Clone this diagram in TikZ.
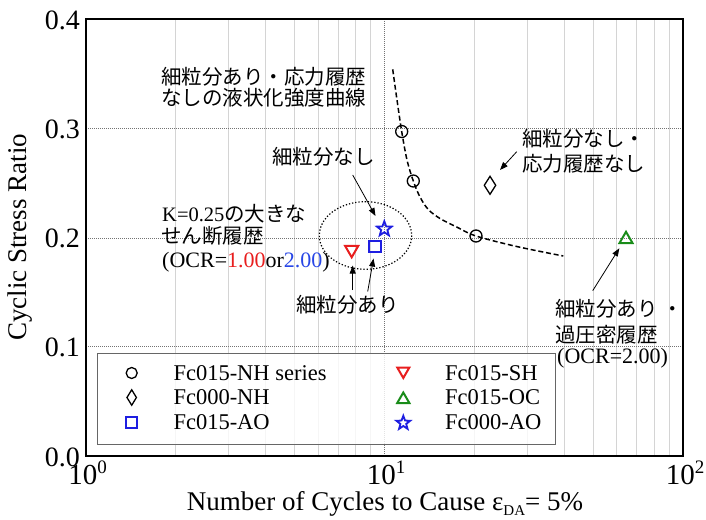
\documentclass[tikz,border=0pt]{standalone}
\usepackage{fontspec}
\setmainfont{Liberation Serif}
\newfontfamily\jp{Noto Sans CJK JP}
\usetikzlibrary{arrows.meta,shapes.geometric}
\definecolor{mkred}{RGB}{232,30,30}
\definecolor{mkblue}{RGB}{30,30,225}
\definecolor{mkgreen}{RGB}{25,140,25}
\definecolor{txtblue}{RGB}{40,70,230}
\tikzset{
  frame/.style={line width=2.4pt},
  minorgrid/.style={draw=black!17, line width=0.8pt},
  majorgrid/.style={draw=black!55, line width=0.7pt, dash pattern=on 0.9pt off 1.1pt},
  fitcurve/.style={line width=1.5pt, dash pattern=on 5pt off 2.8pt},
  ellip/.style={line width=1.2pt, dash pattern=on 1.3pt off 1.9pt},
  ann/.style={-{Triangle[length=8pt,width=6pt]}, line width=0.8pt},
  tick/.style={inner sep=0pt, font=\fontsize{28}{30}\selectfont},
  decade/.style={inner sep=0pt, anchor=base, font=\fontsize{29}{30}\selectfont},
  axlab/.style={inner sep=0pt, font=\fontsize{27}{30}\selectfont},
  jptext/.style={inner sep=0pt, anchor=west, font=\jp\fontsize{20.5}{21}\selectfont},
  lat/.style={inner sep=0pt, anchor=west, font=\fontsize{22}{24}\selectfont},
  legtext/.style={inner sep=0pt, anchor=west, font=\fontsize{22.5}{24}\selectfont},
  mkcirc/.style={circle, draw=black, line width=1.3pt, minimum size=12pt, inner sep=0pt},
  mkdiam/.style={diamond, draw=black, line width=1.3pt, minimum width=12pt, minimum height=18.5pt, inner sep=0pt},
  mksq/.style={rectangle, draw=mkblue, line width=2pt, minimum size=11.3pt, inner sep=0pt},
  mkdown/.style={regular polygon, regular polygon sides=3, shape border rotate=180, draw=mkred, line width=2pt, minimum size=15.4pt, inner sep=0pt},
  mkup/.style={regular polygon, regular polygon sides=3, draw=mkgreen, line width=2pt, minimum size=15pt, inner sep=0pt},
  mkstar/.style={star, star points=5, star point ratio=2.4, draw=mkblue, line width=1.8pt, minimum size=15.5pt, inner sep=0pt},
}
\newcommand{\decadelab}[1]{10\raisebox{11pt}{\fontsize{19}{19}\selectfont #1}}
\begin{document}
\begin{tikzpicture}[x=1pt,y=-1pt]
\useasboundingbox (0,0) rectangle (706,519);
% minor vertical grid
\foreach \k in {2,...,9} {
  \draw[minorgrid] ({86+298.5*log10(\k)},19) -- ({86+298.5*log10(\k)},456);
  \draw[minorgrid] ({384.5+298.5*log10(\k)},19) -- ({384.5+298.5*log10(\k)},456);
}
% major dotted grid
\draw[majorgrid] (384.5,19) -- (384.5,456);
\foreach \yy in {128.75,238,346.75} \draw[majorgrid] (86,\yy) -- (683,\yy);
% fitted curve
\draw[fitcurve] plot[smooth, tension=0.55] coordinates {(392.7,69.3) (397,100) (401.7,131.5) (407,160) (413.3,181) (420,197) (428.3,209.5) (440,218.5) (456.7,227) (476,236) (516.7,246.5) (563.3,256)};
% dotted ellipse
\draw[ellip] (365.5,235.5) ellipse [x radius=46.2, y radius=33.8];
% data markers
\node[mkcirc] (c1) at (401.7,131.5) {};
\node[mkcirc] (c2) at (413.3,181) {};
\node[mkcirc] (c3) at (476,236) {};
\node[mkdiam] (d1) at (490,185.3) {};
\node[mkup] (oc) at (626,239.3) {};
\node[mkstar] (st) at (384.3,229) {};
\node[mksq] (sq) at (375,246.7) {};
\node[mkdown] (sh) at (351.7,249.6) {};
% frame
\draw[frame] (86,19) rectangle (683,456);
% tick labels
\node[tick, anchor=east] (y4) at (80,20.5) {0.4};
\node[tick, anchor=east] (y3) at (80,129.5) {0.3};
\node[tick, anchor=east] (y2) at (80,238.5) {0.2};
\node[tick, anchor=east] (y1) at (80,347.5) {0.1};
\node[tick, anchor=east] (y0) at (80,457) {0.0};
\node[decade] (x0) at (87.5,484) {\decadelab{0}};
\node[decade] (x1) at (386,484) {\decadelab{1}};
\node[decade] (x2) at (685,484) {\decadelab{2}};
% axis labels
\node[axlab, anchor=base] (xl) at (385,510) {Number of Cycles to Cause ε\raisebox{-5pt}{\fontsize{15}{15}\selectfont DA}= 5\%};
\node[axlab, rotate=90] (yl) at (20,237.5) {Cyclic Stress Ratio};
% annotations
\node[jptext] (t1a) at (161,76.7) {細粒分あり・応力履歴};
\node[jptext] (t1b) at (161,97.5) {なしの液状化強度曲線};
\node[jptext] (t2) at (272,156.7) {細粒分なし};
\node[jptext] (t3a) at (162,214) {{\rmfamily K=0.25}の大きな};
\node[jptext] (t3b) at (161,236) {せん断履歴};
\node[lat] (t3c) at (162,262) {(OCR=\textcolor{mkred}{1.00}or\textcolor{txtblue}{2.00})};
\node[jptext] (t4) at (296,305) {細粒分あり};
\node[jptext] (t5a) at (522,138.3) {細粒分なし・};
\node[jptext] (t5b) at (522,163.3) {応力履歴なし};
\node[jptext] (t6a) at (555,308.3) {細粒分あり\hspace{5pt}・};
\node[jptext] (t6b) at (555,335) {過圧密履歴};
\node[lat] (t6c) at (557,358.3) {(OCR=2.00)};
% arrows
\coordinate (a1s) at (352.7,175);
\coordinate (a1e) at (375.5,216);
\coordinate (a2s) at (516.7,151.7);
\coordinate (a2e) at (500,170);
\coordinate (a3s) at (352.7,290);
\coordinate (a3e) at (352.7,265.5);
\coordinate (a4s) at (367.7,291.5);
\coordinate (a4e) at (373.5,258.5);
\coordinate (a5s) at (592.7,290.7);
\coordinate (a5e) at (619.3,248.3);
\draw[ann] (a1s) -- (a1e);
\draw[ann] (a2s) -- (a2e);
\draw[ann] (a3s) -- (a3e);
\draw[ann] (a4s) -- (a4e);
\draw[ann] (a5s) -- (a5e);
% legend
\node[draw=black!60, line width=1pt, fill=white, fill opacity=0.8, minimum width=457.7pt, minimum height=90.7pt, inner sep=0pt] (leg) at (326.2,398.7) {};
\node[mkcirc, minimum size=11pt] (l1) at (131.7,373) {};
\node[mkdiam, minimum width=10pt, minimum height=16pt] (l2) at (131.7,397.5) {};
\node[mksq, minimum size=10.5pt] (l3) at (131.7,422.7) {};
\node[mkdown, minimum size=14pt] (l4) at (403.3,371) {};
\node[mkup, minimum size=14pt] (l5) at (403.3,399.5) {};
\node[mkstar, minimum size=14.5pt] (l6) at (403.3,423) {};
\node[legtext] (lt1) at (173.3,372.7) {Fc015-NH series};
\node[legtext] (lt2) at (173.3,397.5) {Fc000-NH};
\node[legtext] (lt3) at (173.3,422.5) {Fc015-AO};
\node[legtext] (lt4) at (445,372.7) {Fc015-SH};
\node[legtext] (lt5) at (445,397.5) {Fc015-OC};
\node[legtext] (lt6) at (445,422.5) {Fc000-AO};
\end{tikzpicture}
\end{document}
